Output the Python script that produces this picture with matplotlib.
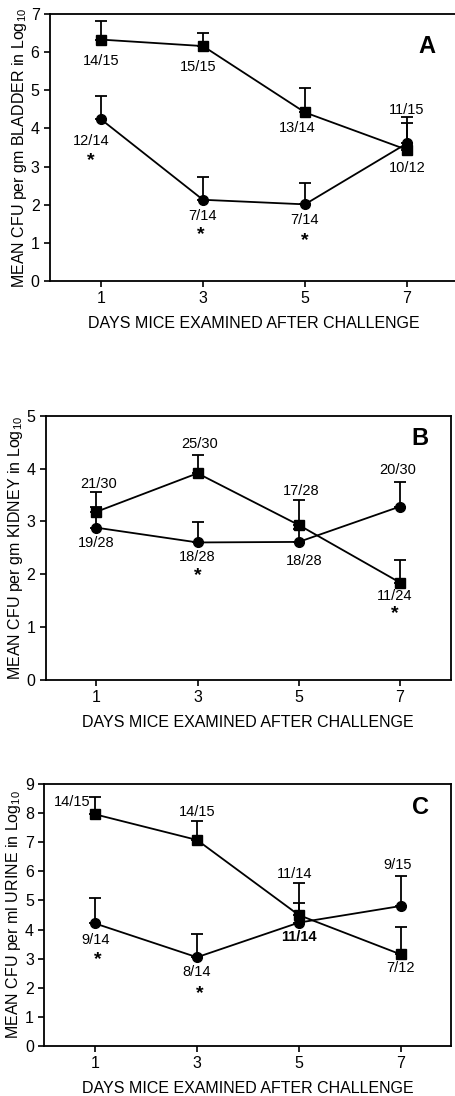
import matplotlib
matplotlib.use('Agg')
import matplotlib.pyplot as plt

plt.rcParams['font.family'] = ['Liberation Sans', 'DejaVu Sans']
plt.rcParams['mathtext.fontset'] = 'custom'
plt.rcParams['mathtext.rm'] = 'Liberation Sans'

days = [1, 3, 5, 7]

# panel A - bladder
a_sq = [6.33, 6.16, 4.42, 3.44]
a_sq_err = [0.50, 0.33, 0.65, 0.70]
a_ci = [4.24, 2.13, 2.01, 3.61]
a_ci_err = [0.60, 0.61, 0.56, 0.68]
a_labels = [(1, 5.77, '14/15'), (2.9, 5.6, '15/15'), (4.85, 4.0, '13/14'),
            (7.0, 4.49, '11/15'), (7.0, 2.97, '10/12'), (0.8, 3.67, '12/14'),
            (3.0, 1.7, '7/14'), (5.0, 1.6, '7/14')]
a_stars = [(0.8, 3.15), (2.95, 1.22), (5.0, 1.05)]

# panel B - kidney
b_sq = [3.18, 3.91, 2.93, 1.84]
b_sq_err = [0.38, 0.35, 0.48, 0.43]
b_ci = [2.88, 2.60, 2.61, 3.28]
b_ci_err = [0.40, 0.39, 0.25, 0.46]
b_labels = [(1.05, 3.71, '21/30'), (1.0, 2.59, '19/28'), (3.05, 4.46, '25/30'),
            (3.0, 2.33, '18/28'), (5.05, 3.58, '17/28'), (5.1, 2.25, '18/28'),
            (6.95, 3.97, '20/30'), (6.9, 1.59, '11/24')]
b_stars = [(3.0, 1.98), (6.9, 1.25)]

# panel C - urine
c_sq = [7.96, 7.08, 4.50, 3.15]
c_sq_err = [0.61, 0.66, 1.09, 0.93]
c_ci = [4.21, 3.05, 4.24, 4.81]
c_ci_err = [0.89, 0.79, 0.68, 1.04]
c_labels = [(0.55, 8.39, '14/15'), (1.0, 3.64, '9/14'), (3.0, 8.05, '14/15'),
            (3.0, 2.55, '8/14'), (4.92, 5.9, '11/14'), (5.0, 3.73, '11/14'),
            (6.95, 6.22, '9/15'), (7.0, 2.67, '7/12')]
c_stars = [(1.05, 2.98), (3.05, 1.8)]

panels = [
    ('A', 'BLADDER', 'gm', a_sq, a_sq_err, a_ci, a_ci_err, a_labels, a_stars, 7,
     [0.1096, 0.7436, 0.8947, 0.2436], 6.15),
    ('B', 'KIDNEY', 'gm', b_sq, b_sq_err, b_ci, b_ci_err, b_labels, b_stars, 5,
     [0.1002, 0.3798, 0.888, 0.2409], 4.57),
    ('C', 'URINE', 'ml', c_sq, c_sq_err, c_ci, c_ci_err, c_labels, c_stars, 9,
     [0.0971, 0.0456, 0.893, 0.2390], 8.2),
]

fig = plt.figure(figsize=(4.56, 10.96), dpi=100)

for letter, organ, unit, sq, sq_err, ci, ci_err, labels, stars, ymax, rect, ly in panels:
    ax = fig.add_axes(rect)
    zeros = [0] * len(days)
    ax.errorbar(days, sq, yerr=[zeros, sq_err], color='black', marker='s', ms=7,
                lw=1.3, elinewidth=1.3, capsize=4, capthick=1.3)
    ax.errorbar(days, ci, yerr=[zeros, ci_err], color='black', marker='o', ms=7,
                lw=1.3, elinewidth=1.3, capsize=4, capthick=1.3)
    for x, y, t in labels:
        # the lower 11/14 in panel C is printed bolder in the original
        w = 'bold' if (letter == 'C' and y < 4 and t == '11/14') else 'normal'
        ax.text(x, y, t, ha='center', va='center', fontsize=10.5, fontweight=w)
    for x, y in stars:
        ax.text(x, y, '*', ha='center', va='center', fontsize=14, fontweight='bold')
    ax.text(7.4, ly, letter, ha='center', va='center', fontsize=17, fontweight='bold')
    ax.set_xlim(0, 8)
    ax.set_ylim(0, ymax)
    ax.set_xticks(days)
    ax.set_yticks(range(ymax + 1))
    ax.tick_params(labelsize=11.5, length=4, width=1.2, direction='out')
    for s in ax.spines.values():
        s.set_linewidth(1.3)
    ax.set_xlabel('DAYS MICE EXAMINED AFTER CHALLENGE', fontsize=11.5, labelpad=7)
    ax.set_ylabel('MEAN CFU per %s %s in Log$_{10}$' % (unit, organ), fontsize=11.5,
                  labelpad=1)

fig.savefig('out.png', dpi=100)
